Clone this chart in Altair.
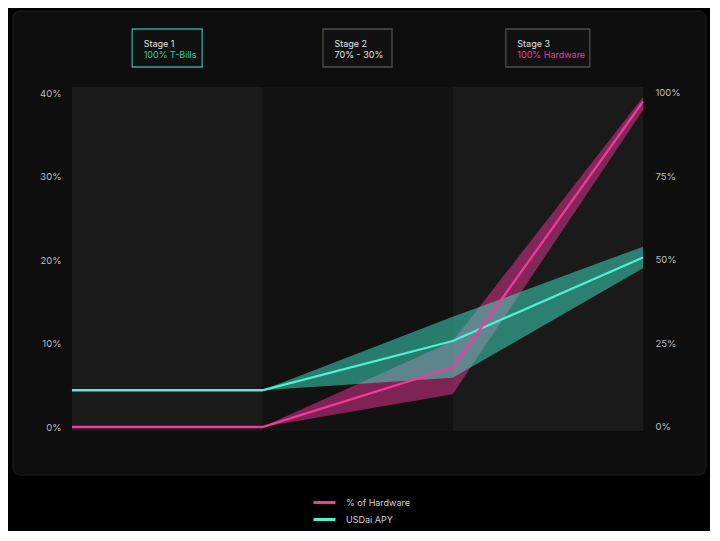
import altair as alt
import pandas as pd

# ---------------- data ----------------
stage_pos = [0, 1, 2, 3]
apy = [4.4, 4.4, 10.3, 20.3]
apy_lo = [4.4, 4.4, 5.9, 19.0]
apy_hi = [4.4, 4.4, 13.2, 21.6]
hw = [0.0, 0.0, 17.8, 97.4]
hw_lo = [0.0, 0.0, 9.8, 94.8]
hw_hi = [0.0, 0.0, 25.7, 98.8]

stage_names = ["Stage 1", "Stage 2", "Stage 3"]
stage_mix = ["100% T-Bills", "70% - 30%", "100% Hardware"]
stage_start = [0, 1, 2]
stage_end = [1, 2, 3]

apy_ticks = [0, 10, 20, 30, 40]
hw_ticks = [0, 25, 50, 75, 100]
series_names = ["% of Hardware", "USDai APY"]

# ---------------- style ----------------
FONT = "Inter"
PINK = "#f23a9c"
CYAN = "#4ff0d6"
W, H = 571, 344
PL, PT = 64, 79
PR, PB = 67, 100

apy_df = pd.DataFrame({"pos": stage_pos, "value": apy, "lo": apy_lo, "hi": apy_hi,
                       "series": series_names[1]})
hw_df = pd.DataFrame({"pos": stage_pos, "value": hw, "lo": hw_lo, "hi": hw_hi,
                      "series": series_names[0]})
stages = pd.DataFrame({"idx": [0, 1, 2], "start": stage_start, "end": stage_end,
                       "name": stage_names, "mix": stage_mix})

xscale = alt.Scale(domain=[0, 3], nice=False, zero=False)
X = alt.X("pos:Q", scale=xscale, axis=None)

apy_scale = alt.Scale(domain=[-0.479, 40.719], nice=False, zero=False)
hw_scale = alt.Scale(domain=[-1.198, 101.796], nice=False, zero=False)

apy_axis = alt.Axis(orient="left", values=apy_ticks, labelExpr="datum.value + '%'",
                    title=None, domain=False, ticks=False, grid=False, labelPadding=11,
                    zindex=2)
hw_axis = alt.Axis(orient="right", values=hw_ticks, labelExpr="datum.value + '%'",
                   title=None, domain=False, ticks=False, grid=False, labelPadding=12,
                   zindex=2)

legend = alt.Legend(orient="none", legendX=240, legendY=408, direction="vertical",
                    title=None, symbolType="stroke", symbolSize=484, symbolStrokeWidth=3,
                    labelFont=FONT, labelFontSize=9, labelColor="#d0d0d0",
                    labelOffset=9, rowPadding=2, clipHeight=15, padding=0)
color = alt.Color("series:N", scale=alt.Scale(domain=series_names, range=[PINK, CYAN]),
                  legend=legend)

# card
card = alt.Chart(pd.DataFrame({"k": [0]})).mark_rect(
    fill="#0e0e0e", stroke="#1e1e1e", strokeWidth=1, cornerRadius=7
).encode(x=alt.value(13 - 72), x2=alt.value(706 - 72),
         y=alt.value(11 - 87), y2=alt.value(475 - 87))

# stage background bands
bands = alt.Chart(stages).mark_rect().encode(
    x=alt.X("start:Q", scale=xscale, axis=None), x2="end:Q",
    y=alt.value(0), y2=alt.value(H),
    fill=alt.condition("datum.idx == 1", alt.value("#121212"), alt.value("#1a1a1a")),
)

box_w = [70, 69, 84]
box_stroke = ["#3aa893", "#4e4e4e", "#4e4e4e"]
mix_color = ["#3cc4aa", "#e2e2e2", "#e8399a"]
box_layers = []
for i in range(3):
    base = alt.Chart(stages).transform_filter(f"datum.idx == {i}").transform_calculate(
        mid="(datum.start + datum.end) / 2")
    bw = box_w[i]
    box = base.mark_rect(fill="#111111", stroke=box_stroke[i], strokeWidth=1.3,
                         xOffset=-bw / 2, x2Offset=bw / 2).encode(
        x=alt.X("mid:Q", scale=xscale, axis=None), x2="mid:Q",
        y=alt.value(-58), y2=alt.value(-20))
    t1 = base.mark_text(align="left", baseline="middle", dx=-bw / 2 + 11.5,
                        font=FONT, fontSize=9, color="#e2e2e2").encode(
        x=alt.X("mid:Q", scale=xscale, axis=None), y=alt.value(-43.5), text="name:N")
    t2 = base.mark_text(align="left", baseline="middle", dx=-bw / 2 + 11.5,
                        font=FONT, fontSize=9, color=mix_color[i]).encode(
        x=alt.X("mid:Q", scale=xscale, axis=None), y=alt.value(-32.5), text="mix:N")
    box_layers += [box, t1, t2]

hw_band = alt.Chart(hw_df).mark_area(color="#ec3196", opacity=0.5).encode(
    x=X, y=alt.Y("lo:Q", scale=hw_scale, axis=None), y2="hi:Q")
apy_band = alt.Chart(apy_df).mark_area(color="#3ee6c8", opacity=0.5).encode(
    x=X, y=alt.Y("lo:Q", scale=apy_scale, axis=None), y2="hi:Q")

apy_line = alt.Chart(apy_df).mark_line(strokeWidth=2.3).encode(
    x=X, y=alt.Y("value:Q", scale=apy_scale, axis=apy_axis), color=color)
hw_line = alt.Chart(hw_df).mark_line(strokeWidth=2.3).encode(
    x=X, y=alt.Y("value:Q", scale=hw_scale, axis=hw_axis), color=color)

chart = alt.layer(card, bands, *box_layers, hw_band, apy_band, apy_line, hw_line).resolve_scale(
    y="independent"
).properties(
    width=W, height=H, autosize="none",
    padding={"left": PL, "top": PT, "right": PR, "bottom": PB},
    background="#000000",
    usermeta={"embedOptions": {"defaultStyle": "html, body { background: #000000; }"}},
).configure_view(stroke=None).configure_axis(
    labelFont=FONT, labelFontSize=9.5, labelColor="#bdbdbd"
)

chart.save("out.html", embed_options={"renderer": "svg", "actions": False})
